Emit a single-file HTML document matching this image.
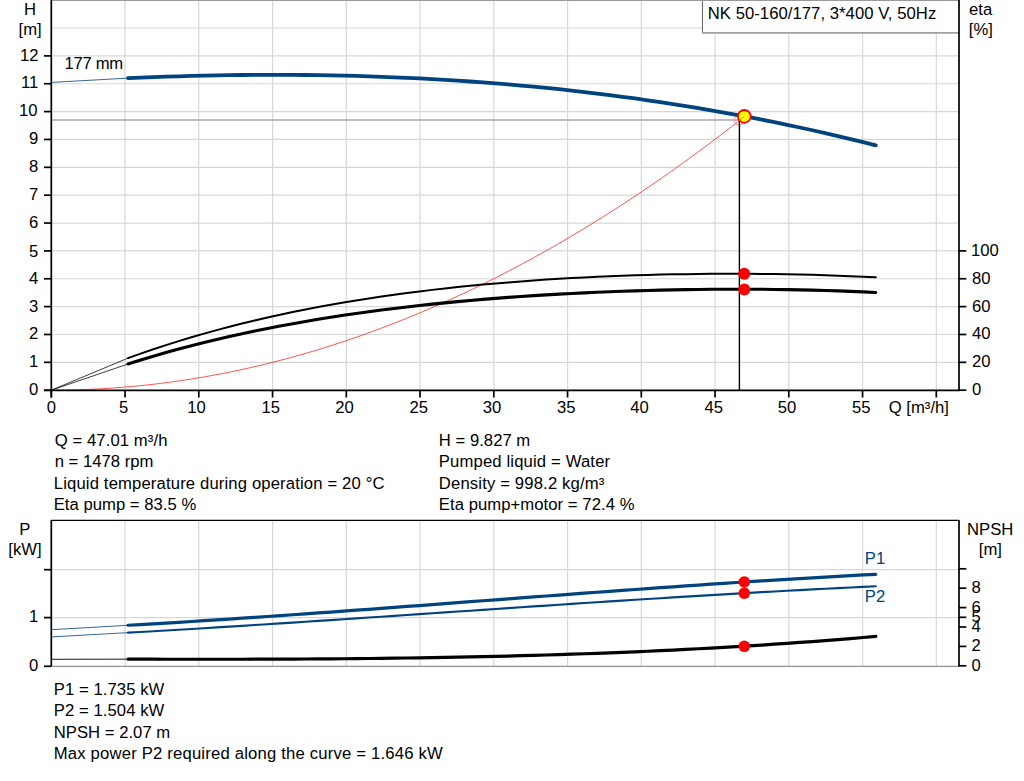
<!DOCTYPE html>
<html><head><meta charset="utf-8"><style>
html,body{margin:0;padding:0;background:#fff;width:1024px;height:781px;overflow:hidden}
svg{display:block}
text{font-family:"Liberation Sans",sans-serif;font-size:16.67px;fill:#000}
</style></head><body>
<svg width="1024" height="781" viewBox="0 0 1024 781">
<rect width="1024" height="781" fill="#fff"/>
<line x1="125.05" y1="0" x2="125.05" y2="390" stroke="#d5d8db" stroke-width="1.2"/>
<line x1="198.80" y1="0" x2="198.80" y2="390" stroke="#d5d8db" stroke-width="1.2"/>
<line x1="272.55" y1="0" x2="272.55" y2="390" stroke="#d5d8db" stroke-width="1.2"/>
<line x1="346.30" y1="0" x2="346.30" y2="390" stroke="#d5d8db" stroke-width="1.2"/>
<line x1="420.05" y1="0" x2="420.05" y2="390" stroke="#d5d8db" stroke-width="1.2"/>
<line x1="493.80" y1="0" x2="493.80" y2="390" stroke="#d5d8db" stroke-width="1.2"/>
<line x1="567.55" y1="0" x2="567.55" y2="390" stroke="#d5d8db" stroke-width="1.2"/>
<line x1="641.30" y1="0" x2="641.30" y2="390" stroke="#d5d8db" stroke-width="1.2"/>
<line x1="715.05" y1="0" x2="715.05" y2="390" stroke="#d5d8db" stroke-width="1.2"/>
<line x1="788.80" y1="0" x2="788.80" y2="390" stroke="#d5d8db" stroke-width="1.2"/>
<line x1="862.55" y1="0" x2="862.55" y2="390" stroke="#d5d8db" stroke-width="1.2"/>
<line x1="936.30" y1="0" x2="936.30" y2="390" stroke="#d5d8db" stroke-width="1.2"/>
<line x1="51" y1="362.34" x2="959" y2="362.34" stroke="#d5d8db" stroke-width="1.2"/>
<line x1="51" y1="334.48" x2="959" y2="334.48" stroke="#d5d8db" stroke-width="1.2"/>
<line x1="51" y1="306.62" x2="959" y2="306.62" stroke="#d5d8db" stroke-width="1.2"/>
<line x1="51" y1="278.76" x2="959" y2="278.76" stroke="#d5d8db" stroke-width="1.2"/>
<line x1="51" y1="250.90" x2="959" y2="250.90" stroke="#d5d8db" stroke-width="1.2"/>
<line x1="51" y1="223.04" x2="959" y2="223.04" stroke="#d5d8db" stroke-width="1.2"/>
<line x1="51" y1="195.18" x2="959" y2="195.18" stroke="#d5d8db" stroke-width="1.2"/>
<line x1="51" y1="167.32" x2="959" y2="167.32" stroke="#d5d8db" stroke-width="1.2"/>
<line x1="51" y1="139.46" x2="959" y2="139.46" stroke="#d5d8db" stroke-width="1.2"/>
<line x1="51" y1="111.60" x2="959" y2="111.60" stroke="#d5d8db" stroke-width="1.2"/>
<line x1="51" y1="83.74" x2="959" y2="83.74" stroke="#d5d8db" stroke-width="1.2"/>
<line x1="51" y1="55.88" x2="959" y2="55.88" stroke="#d5d8db" stroke-width="1.2"/>
<line x1="51" y1="28.02" x2="959" y2="28.02" stroke="#d5d8db" stroke-width="1.2"/>
<path d="M51.30,390.20 L63.05,390.12 L74.80,389.89 L86.56,389.49 L98.31,388.94 L110.06,388.23 L121.81,387.37 L133.57,386.35 L145.32,385.17 L157.07,383.83 L168.82,382.34 L180.58,380.68 L192.33,378.87 L204.08,376.91 L215.83,374.78 L227.59,372.50 L239.34,370.07 L251.09,367.47 L262.84,364.72 L274.60,361.81 L286.35,358.74 L298.10,355.52 L309.86,352.13 L321.61,348.59 L333.36,344.90 L345.11,341.04 L356.86,337.03 L368.62,332.86 L380.37,328.54 L392.12,324.06 L403.88,319.42 L415.63,314.62 L427.38,309.66 L439.13,304.55 L450.88,299.28 L462.64,293.85 L474.39,288.27 L486.14,282.53 L497.89,276.63 L509.65,270.57 L521.40,264.36 L533.15,257.99 L544.90,251.46 L556.66,244.78 L568.41,237.93 L580.16,230.93 L591.91,223.78 L603.67,216.46 L615.42,208.99 L627.17,201.36 L638.92,193.58 L650.68,185.63 L662.43,177.53 L674.18,169.27 L685.93,160.86 L697.69,152.28 L709.44,143.55 L721.19,134.67 L732.94,125.62 L744.70,116.42" fill="none" stroke="#ff2a2a" stroke-width="0.8"/>
<circle cx="739.3" cy="120" r="5" fill="none" stroke="#ff7070" stroke-width="0.8"/>
<line x1="51" y1="120" x2="739" y2="120" stroke="#a8a8a8" stroke-width="1.6"/>
<line x1="739.4" y1="120" x2="739.4" y2="390" stroke="#000" stroke-width="1.4"/>
<path d="M51.30,82.4 L128.00,78.14" fill="none" stroke="#00437f" stroke-width="1" opacity="0.8"/>
<path d="M128.00,78.14 L140.68,77.60 L153.35,77.12 L166.02,76.68 L178.70,76.28 L191.38,75.93 L204.05,75.63 L216.73,75.38 L229.40,75.18 L242.07,75.02 L254.75,74.92 L267.43,74.87 L280.10,74.86 L292.77,74.92 L305.45,75.02 L318.12,75.18 L330.80,75.39 L343.47,75.65 L356.15,75.97 L368.82,76.35 L381.50,76.79 L394.17,77.28 L406.85,77.83 L419.52,78.44 L432.20,79.11 L444.87,79.84 L457.55,80.63 L470.22,81.48 L482.90,82.40 L495.57,83.37 L508.25,84.42 L520.92,85.52 L533.60,86.69 L546.27,87.93 L558.95,89.23 L571.62,90.60 L584.30,92.04 L596.97,93.54 L609.65,95.12 L622.32,96.76 L635.00,98.48 L647.67,100.26 L660.35,102.12 L673.02,104.05 L685.70,106.06 L698.37,108.13 L711.05,110.29 L723.72,112.51 L736.40,114.82 L749.07,117.20 L761.75,119.65 L774.42,122.19 L787.10,124.80 L799.77,127.49 L812.45,130.26 L825.12,133.12 L837.80,136.05 L850.47,139.07 L863.15,142.16 L875.82,145.35" fill="none" stroke="#00437f" stroke-width="3.8" stroke-linecap="round"/>
<path d="M51.30,390.2 L128.00,358.12" fill="none" stroke="#000" stroke-width="0.9" opacity="0.85"/>
<path d="M128.00,358.12 L140.68,353.59 L153.35,349.25 L166.02,345.08 L178.70,341.09 L191.38,337.26 L204.05,333.60 L216.73,330.09 L229.40,326.73 L242.07,323.51 L254.75,320.44 L267.43,317.51 L280.10,314.70 L292.77,312.03 L305.45,309.47 L318.12,307.04 L330.80,304.72 L343.47,302.52 L356.15,300.42 L368.82,298.42 L381.50,296.52 L394.17,294.73 L406.85,293.02 L419.52,291.41 L432.20,289.88 L444.87,288.43 L457.55,287.07 L470.22,285.79 L482.90,284.58 L495.57,283.45 L508.25,282.39 L520.92,281.40 L533.60,280.48 L546.27,279.62 L558.95,278.83 L571.62,278.10 L584.30,277.43 L596.97,276.82 L609.65,276.27 L622.32,275.77 L635.00,275.33 L647.67,274.95 L660.35,274.62 L673.02,274.35 L685.70,274.13 L698.37,273.96 L711.05,273.85 L723.72,273.78 L736.40,273.78 L749.07,273.82 L761.75,273.92 L774.42,274.07 L787.10,274.27 L799.77,274.53 L812.45,274.85 L825.12,275.22 L837.80,275.65 L850.47,276.14 L863.15,276.68 L875.82,277.29" fill="none" stroke="#000" stroke-width="2.0" stroke-linecap="round"/>
<path d="M51.30,390.2 L128.00,364.00" fill="none" stroke="#000" stroke-width="0.9" opacity="0.85"/>
<path d="M128.00,364.00 L140.68,360.04 L153.35,356.23 L166.02,352.59 L178.70,349.09 L191.38,345.75 L204.05,342.54 L216.73,339.47 L229.40,336.53 L242.07,333.73 L254.75,331.04 L267.43,328.47 L280.10,326.02 L292.77,323.68 L305.45,321.44 L318.12,319.31 L330.80,317.27 L343.47,315.33 L356.15,313.48 L368.82,311.72 L381.50,310.05 L394.17,308.46 L406.85,306.95 L419.52,305.51 L432.20,304.15 L444.87,302.87 L457.55,301.65 L470.22,300.49 L482.90,299.41 L495.57,298.38 L508.25,297.42 L520.92,296.52 L533.60,295.67 L546.27,294.88 L558.95,294.14 L571.62,293.46 L584.30,292.84 L596.97,292.26 L609.65,291.73 L622.32,291.26 L635.00,290.83 L647.67,290.46 L660.35,290.13 L673.02,289.86 L685.70,289.63 L698.37,289.45 L711.05,289.32 L723.72,289.24 L736.40,289.21 L749.07,289.23 L761.75,289.30 L774.42,289.43 L787.10,289.61 L799.77,289.84 L812.45,290.13 L825.12,290.48 L837.80,290.89 L850.47,291.35 L863.15,291.88 L875.82,292.48" fill="none" stroke="#000" stroke-width="3.1" stroke-linecap="round"/>
<rect x="702.5" y="0" width="256.5" height="32.5" fill="#fff"/>
<line x1="702.5" y1="0" x2="702.5" y2="33.6" stroke="#6e6e6e" stroke-width="1.1"/>
<line x1="702" y1="32.9" x2="959" y2="32.9" stroke="#a0a0a0" stroke-width="1.7"/>
<line x1="51" y1="0.5" x2="959" y2="0.5" stroke="#9a9a9a" stroke-width="1.2"/>
<line x1="51.3" y1="0" x2="51.3" y2="397.5" stroke="#000" stroke-width="1.7"/>
<line x1="959" y1="0" x2="959" y2="391" stroke="#000" stroke-width="1.7"/>
<line x1="44" y1="390.4" x2="959.8" y2="390.4" stroke="#000" stroke-width="1.7"/>
<line x1="44" y1="390.20" x2="51.3" y2="390.20" stroke="#000" stroke-width="1.7"/>
<line x1="44" y1="362.34" x2="51.3" y2="362.34" stroke="#000" stroke-width="1.7"/>
<line x1="44" y1="334.48" x2="51.3" y2="334.48" stroke="#000" stroke-width="1.7"/>
<line x1="44" y1="306.62" x2="51.3" y2="306.62" stroke="#000" stroke-width="1.7"/>
<line x1="44" y1="278.76" x2="51.3" y2="278.76" stroke="#000" stroke-width="1.7"/>
<line x1="44" y1="250.90" x2="51.3" y2="250.90" stroke="#000" stroke-width="1.7"/>
<line x1="44" y1="223.04" x2="51.3" y2="223.04" stroke="#000" stroke-width="1.7"/>
<line x1="44" y1="195.18" x2="51.3" y2="195.18" stroke="#000" stroke-width="1.7"/>
<line x1="44" y1="167.32" x2="51.3" y2="167.32" stroke="#000" stroke-width="1.7"/>
<line x1="44" y1="139.46" x2="51.3" y2="139.46" stroke="#000" stroke-width="1.7"/>
<line x1="44" y1="111.60" x2="51.3" y2="111.60" stroke="#000" stroke-width="1.7"/>
<line x1="44" y1="83.74" x2="51.3" y2="83.74" stroke="#000" stroke-width="1.7"/>
<line x1="44" y1="55.88" x2="51.3" y2="55.88" stroke="#000" stroke-width="1.7"/>
<line x1="959" y1="390.20" x2="966.3" y2="390.20" stroke="#000" stroke-width="1.7"/>
<line x1="959" y1="362.34" x2="966.3" y2="362.34" stroke="#000" stroke-width="1.7"/>
<line x1="959" y1="334.48" x2="966.3" y2="334.48" stroke="#000" stroke-width="1.7"/>
<line x1="959" y1="306.62" x2="966.3" y2="306.62" stroke="#000" stroke-width="1.7"/>
<line x1="959" y1="278.76" x2="966.3" y2="278.76" stroke="#000" stroke-width="1.7"/>
<line x1="959" y1="250.90" x2="966.3" y2="250.90" stroke="#000" stroke-width="1.7"/>
<line x1="51.30" y1="390.4" x2="51.30" y2="397.5" stroke="#000" stroke-width="1.7"/>
<line x1="125.05" y1="390.4" x2="125.05" y2="397.5" stroke="#000" stroke-width="1.7"/>
<line x1="198.80" y1="390.4" x2="198.80" y2="397.5" stroke="#000" stroke-width="1.7"/>
<line x1="272.55" y1="390.4" x2="272.55" y2="397.5" stroke="#000" stroke-width="1.7"/>
<line x1="346.30" y1="390.4" x2="346.30" y2="397.5" stroke="#000" stroke-width="1.7"/>
<line x1="420.05" y1="390.4" x2="420.05" y2="397.5" stroke="#000" stroke-width="1.7"/>
<line x1="493.80" y1="390.4" x2="493.80" y2="397.5" stroke="#000" stroke-width="1.7"/>
<line x1="567.55" y1="390.4" x2="567.55" y2="397.5" stroke="#000" stroke-width="1.7"/>
<line x1="641.30" y1="390.4" x2="641.30" y2="397.5" stroke="#000" stroke-width="1.7"/>
<line x1="715.05" y1="390.4" x2="715.05" y2="397.5" stroke="#000" stroke-width="1.7"/>
<line x1="788.80" y1="390.4" x2="788.80" y2="397.5" stroke="#000" stroke-width="1.7"/>
<line x1="862.55" y1="390.4" x2="862.55" y2="397.5" stroke="#000" stroke-width="1.7"/>
<line x1="936.30" y1="390.4" x2="936.30" y2="397.5" stroke="#000" stroke-width="1.7"/>
<circle cx="744.3" cy="116.4" r="6.4" fill="#ffff00" stroke="#ff0000" stroke-width="1.8"/>
<line x1="739.3" y1="120.4" x2="744.3" y2="116.4" stroke="#ff6a20" stroke-width="0.9"/>
<circle cx="744.3" cy="273.8" r="6" fill="#ff0000"/>
<circle cx="744.3" cy="289.5" r="6" fill="#ff0000"/>
<line x1="125.05" y1="520" x2="125.05" y2="666" stroke="#d5d8db" stroke-width="1.2"/>
<line x1="198.80" y1="520" x2="198.80" y2="666" stroke="#d5d8db" stroke-width="1.2"/>
<line x1="272.55" y1="520" x2="272.55" y2="666" stroke="#d5d8db" stroke-width="1.2"/>
<line x1="346.30" y1="520" x2="346.30" y2="666" stroke="#d5d8db" stroke-width="1.2"/>
<line x1="420.05" y1="520" x2="420.05" y2="666" stroke="#d5d8db" stroke-width="1.2"/>
<line x1="493.80" y1="520" x2="493.80" y2="666" stroke="#d5d8db" stroke-width="1.2"/>
<line x1="567.55" y1="520" x2="567.55" y2="666" stroke="#d5d8db" stroke-width="1.2"/>
<line x1="641.30" y1="520" x2="641.30" y2="666" stroke="#d5d8db" stroke-width="1.2"/>
<line x1="715.05" y1="520" x2="715.05" y2="666" stroke="#d5d8db" stroke-width="1.2"/>
<line x1="788.80" y1="520" x2="788.80" y2="666" stroke="#d5d8db" stroke-width="1.2"/>
<line x1="862.55" y1="520" x2="862.55" y2="666" stroke="#d5d8db" stroke-width="1.2"/>
<line x1="936.30" y1="520" x2="936.30" y2="666" stroke="#d5d8db" stroke-width="1.2"/>
<line x1="51" y1="617.60" x2="959" y2="617.60" stroke="#d5d8db" stroke-width="1.2"/>
<line x1="51" y1="569.70" x2="959" y2="569.70" stroke="#d5d8db" stroke-width="1.2"/>
<line x1="51" y1="666.3" x2="959" y2="666.3" stroke="#909090" stroke-width="1.2"/>
<path d="M51.30,629.7 L128.00,625.27" fill="none" stroke="#00437f" stroke-width="1" opacity="0.8"/>
<path d="M51.30,636.9 L128.00,632.67" fill="none" stroke="#00437f" stroke-width="1" opacity="0.8"/>
<path d="M51.30,659.3 L128.00,659.15" fill="none" stroke="#000" stroke-width="1" opacity="0.9"/>
<path d="M128.00,625.27 L140.68,624.54 L153.35,623.80 L166.02,623.05 L178.70,622.28 L191.38,621.49 L204.05,620.69 L216.73,619.88 L229.40,619.05 L242.07,618.22 L254.75,617.37 L267.43,616.50 L280.10,615.63 L292.77,614.75 L305.45,613.86 L318.12,612.96 L330.80,612.05 L343.47,611.14 L356.15,610.21 L368.82,609.29 L381.50,608.35 L394.17,607.41 L406.85,606.47 L419.52,605.53 L432.20,604.58 L444.87,603.63 L457.55,602.67 L470.22,601.72 L482.90,600.76 L495.57,599.81 L508.25,598.85 L520.92,597.90 L533.60,596.95 L546.27,596.00 L558.95,595.05 L571.62,594.11 L584.30,593.18 L596.97,592.24 L609.65,591.32 L622.32,590.40 L635.00,589.49 L647.67,588.58 L660.35,587.68 L673.02,586.79 L685.70,585.92 L698.37,585.05 L711.05,584.19 L723.72,583.34 L736.40,582.51 L749.07,581.68 L761.75,580.87 L774.42,580.08 L787.10,579.30 L799.77,578.53 L812.45,577.78 L825.12,577.05 L837.80,576.33 L850.47,575.63 L863.15,574.95 L875.82,574.28" fill="none" stroke="#00437f" stroke-width="3.2" stroke-linecap="round"/>
<path d="M128.00,632.67 L140.68,631.95 L153.35,631.22 L166.02,630.48 L178.70,629.73 L191.38,628.97 L204.05,628.20 L216.73,627.42 L229.40,626.63 L242.07,625.83 L254.75,625.03 L267.43,624.22 L280.10,623.41 L292.77,622.58 L305.45,621.76 L318.12,620.92 L330.80,620.08 L343.47,619.24 L356.15,618.40 L368.82,617.55 L381.50,616.69 L394.17,615.84 L406.85,614.98 L419.52,614.13 L432.20,613.27 L444.87,612.41 L457.55,611.55 L470.22,610.69 L482.90,609.83 L495.57,608.98 L508.25,608.12 L520.92,607.27 L533.60,606.42 L546.27,605.58 L558.95,604.74 L571.62,603.90 L584.30,603.07 L596.97,602.24 L609.65,601.42 L622.32,600.60 L635.00,599.79 L647.67,598.99 L660.35,598.19 L673.02,597.41 L685.70,596.63 L698.37,595.86 L711.05,595.10 L723.72,594.35 L736.40,593.61 L749.07,592.88 L761.75,592.16 L774.42,591.46 L787.10,590.76 L799.77,590.08 L812.45,589.41 L825.12,588.76 L837.80,588.12 L850.47,587.49 L863.15,586.88 L875.82,586.29" fill="none" stroke="#00437f" stroke-width="2.1" stroke-linecap="round"/>
<path d="M128.00,659.15 L140.68,659.18 L153.35,659.21 L166.02,659.23 L178.70,659.25 L191.38,659.26 L204.05,659.26 L216.73,659.26 L229.40,659.25 L242.07,659.23 L254.75,659.20 L267.43,659.17 L280.10,659.12 L292.77,659.07 L305.45,659.00 L318.12,658.92 L330.80,658.83 L343.47,658.73 L356.15,658.61 L368.82,658.49 L381.50,658.34 L394.17,658.19 L406.85,658.02 L419.52,657.83 L432.20,657.63 L444.87,657.41 L457.55,657.17 L470.22,656.92 L482.90,656.65 L495.57,656.36 L508.25,656.05 L520.92,655.72 L533.60,655.37 L546.27,655.00 L558.95,654.61 L571.62,654.20 L584.30,653.76 L596.97,653.30 L609.65,652.82 L622.32,652.32 L635.00,651.79 L647.67,651.23 L660.35,650.65 L673.02,650.05 L685.70,649.42 L698.37,648.76 L711.05,648.07 L723.72,647.36 L736.40,646.61 L749.07,645.84 L761.75,645.04 L774.42,644.21 L787.10,643.35 L799.77,642.45 L812.45,641.53 L825.12,640.57 L837.80,639.58 L850.47,638.56 L863.15,637.50 L875.82,636.41" fill="none" stroke="#000" stroke-width="3.2" stroke-linecap="round"/>
<line x1="51.3" y1="520.4" x2="959" y2="520.4" stroke="#000" stroke-width="1.3"/>
<line x1="51.3" y1="520" x2="51.3" y2="666" stroke="#000" stroke-width="1.7"/>
<line x1="959" y1="520" x2="959" y2="666.5" stroke="#000" stroke-width="1.7"/>
<line x1="44" y1="666.30" x2="51.3" y2="666.30" stroke="#000" stroke-width="1.7"/>
<line x1="44" y1="617.60" x2="51.3" y2="617.60" stroke="#000" stroke-width="1.7"/>
<line x1="44" y1="569.70" x2="51.3" y2="569.70" stroke="#000" stroke-width="1.7"/>
<line x1="959" y1="665.80" x2="966.3" y2="665.80" stroke="#000" stroke-width="1.7"/>
<line x1="959" y1="646.40" x2="966.3" y2="646.40" stroke="#000" stroke-width="1.7"/>
<line x1="959" y1="627.00" x2="966.3" y2="627.00" stroke="#000" stroke-width="1.7"/>
<line x1="959" y1="617.30" x2="966.3" y2="617.30" stroke="#000" stroke-width="1.7"/>
<line x1="959" y1="607.60" x2="966.3" y2="607.60" stroke="#000" stroke-width="1.7"/>
<line x1="959" y1="588.20" x2="966.3" y2="588.20" stroke="#000" stroke-width="1.7"/>
<line x1="959" y1="568.80" x2="966.3" y2="568.80" stroke="#000" stroke-width="1.7"/>
<circle cx="744.3" cy="582.0" r="5.8" fill="#ff0000"/>
<circle cx="744.3" cy="593.2" r="5.8" fill="#ff0000"/>
<circle cx="744.3" cy="646.3" r="5.8" fill="#ff0000"/>
<text x="24.10" y="14.85">H</text>
<text x="18.60" y="34.80">[m]</text>
<text x="969.00" y="14.85">eta</text>
<text x="968.75" y="34.80">[%]</text>
<text x="64.50" y="68.80" textLength="58.61" lengthAdjust="spacing">177 mm</text>
<text x="707.70" y="19.00" textLength="228.54" lengthAdjust="spacing">NK 50-160/177, 3*400 V, 50Hz</text>
<text x="29.00" y="394.97">0</text>
<text x="29.00" y="366.82">1</text>
<text x="29.00" y="338.92">2</text>
<text x="29.00" y="312.07">3</text>
<text x="29.00" y="284.02">4</text>
<text x="29.00" y="256.72">5</text>
<text x="29.00" y="227.72">6</text>
<text x="29.00" y="199.82">7</text>
<text x="29.00" y="172.12">8</text>
<text x="29.00" y="143.62">9</text>
<text x="19.00" y="115.92">10</text>
<text x="21.00" y="87.87">11</text>
<text x="20.00" y="60.87">12</text>
<text x="971.90" y="395.10">0</text>
<text x="971.90" y="367.24">20</text>
<text x="971.90" y="339.38">40</text>
<text x="971.90" y="311.52">60</text>
<text x="971.90" y="283.66">80</text>
<text x="970.90" y="255.80">100</text>
<text x="46.80" y="412.80">0</text>
<text x="118.95" y="412.80">5</text>
<text x="187.20" y="412.80">10</text>
<text x="261.45" y="412.80">15</text>
<text x="335.20" y="412.80">20</text>
<text x="409.45" y="412.80">25</text>
<text x="482.70" y="412.80">30</text>
<text x="556.95" y="412.80">35</text>
<text x="630.20" y="412.80">40</text>
<text x="704.45" y="412.80">45</text>
<text x="777.70" y="412.80">50</text>
<text x="851.95" y="412.80">55</text>
<text x="888.70" y="412.80" textLength="60.27" lengthAdjust="spacing">Q [m³/h]</text>
<text x="54.70" y="445.80" textLength="112.75" lengthAdjust="spacing">Q = 47.01 m³/h</text>
<text x="54.70" y="466.80" textLength="98.62" lengthAdjust="spacing">n = 1478 rpm</text>
<text x="53.80" y="488.80" textLength="330.67" lengthAdjust="spacing">Liquid temperature during operation = 20 °C</text>
<text x="53.70" y="509.50" textLength="142.57" lengthAdjust="spacing">Eta pump = 83.5 %</text>
<text x="438.80" y="445.80" textLength="91.42" lengthAdjust="spacing">H = 9.827 m</text>
<text x="438.80" y="466.80" textLength="171.28" lengthAdjust="spacing">Pumped liquid = Water</text>
<text x="438.80" y="488.80" textLength="165.53" lengthAdjust="spacing">Density = 998.2 kg/m³</text>
<text x="438.80" y="509.50" textLength="195.69" lengthAdjust="spacing">Eta pump+motor = 72.4 %</text>
<text x="19.30" y="534.60">P</text>
<text x="8.25" y="554.80">[kW]</text>
<text x="967.10" y="534.90">NPSH</text>
<text x="978.83" y="554.70">[m]</text>
<text x="864.80" y="563.80" style="fill:#00437f">P1</text>
<text x="864.80" y="601.50" style="fill:#00437f">P2</text>
<text x="29.00" y="621.77">1</text>
<text x="29.00" y="670.80">0</text>
<text x="971.50" y="670.70">0</text>
<text x="971.50" y="651.30">2</text>
<text x="971.50" y="631.90">4</text>
<text x="971.50" y="622.20">5</text>
<text x="971.50" y="612.50">6</text>
<text x="971.50" y="593.10">8</text>
<text x="53.70" y="694.50" textLength="110.59" lengthAdjust="spacing">P1 = 1.735 kW</text>
<text x="53.70" y="715.60" textLength="110.59" lengthAdjust="spacing">P2 = 1.504 kW</text>
<text x="53.70" y="737.50" textLength="116.51" lengthAdjust="spacing">NPSH = 2.07 m</text>
<text x="53.70" y="758.60" textLength="389.05" lengthAdjust="spacing">Max power P2 required along the curve = 1.646 kW</text>
</svg>
</body></html>
